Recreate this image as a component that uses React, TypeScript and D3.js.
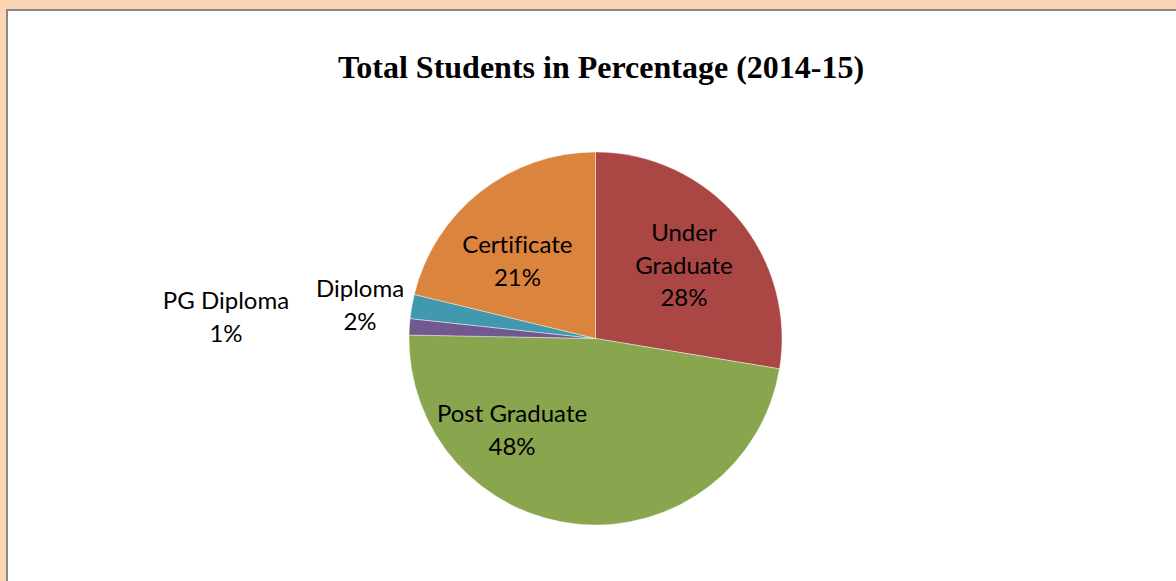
import React from "react";
import * as d3 from "d3";

const categories = ["Under Graduate", "Post Graduate", "PG Diploma", "Diploma", "Certificate"];
const values = [27.6, 47.7, 1.4, 2.1, 21.2];
const percentLabels = ["28%", "48%", "1%", "2%", "21%"];
const labelLines = [["Under", "Graduate"], ["Post Graduate"], ["PG Diploma"], ["Diploma"], ["Certificate"]];
const colors = ["#AA4644", "#89A54E", "#71588F", "#4198AF", "#DB843D"];

// label placement (polar: angle in degrees clockwise from top, radius as fraction of pie radius)
const labelPlacement = [
  { angle: 49.9, r: 0.62 },
  { angle: 222.7, r: 0.66 },
  { angle: 273.5, r: 1.985 },
  { angle: 278.3, r: 1.276 },
  { angle: 315.2, r: 0.594 },
];

const W = 1176;
const H = 581;
const cx = 595.5;
const cy = 338.5;
const R = 186.5;

export default function App() {
  const pie = d3.pie<number>().sort(null).value((d) => d);
  const arcs = pie(values);
  const arc = d3.arc<d3.PieArcDatum<number>>().innerRadius(0).outerRadius(R);
  const lineH = 32.5;

  return (
    <div style={{ position: "absolute", left: 0, top: 0, width: W, height: H }}>
      <svg width={W} height={H} style={{ display: "block" }}>
        <rect x={0} y={0} width={W} height={H} fill="#FCD5B4" />
        <rect x={7} y={10} width={W + 20} height={H + 20} fill="#FFFFFF" stroke="#878787" strokeWidth={2} />
        <text
          x={601}
          y={78}
          textAnchor="middle"
          fontFamily="'Liberation Serif', 'Times New Roman', serif"
          fontWeight="bold"
          fontSize={32}
          fill="#000"
        >
          Total Students in Percentage (2014-15)
        </text>
        <g transform={`translate(${cx},${cy})`}>
          {arcs.map((a, i) => (
            <path key={categories[i]} d={arc(a) || ""} fill={colors[i]} stroke="#FFFFFF" strokeOpacity={0.6} strokeWidth={0.7} />
          ))}
          {arcs.map((a, i) => {
            const p = labelPlacement[i];
            const th = (p.angle * Math.PI) / 180;
            const lx = Math.sin(th) * p.r * R;
            const ly = -Math.cos(th) * p.r * R;
            const lines = [...labelLines[i], percentLabels[i]];
            const y0 = ly - ((lines.length - 1) * lineH) / 2;
            return (
              <text
                key={"l" + i}
                textAnchor="middle"
                fontFamily="Lato, 'Open Sans', sans-serif"
                fontSize={24}
                fill="#000"
                style={{ fontVariantLigatures: "none" }}
              >
                {lines.map((t, j) => (
                  <tspan key={j} x={lx} y={y0 + j * lineH} dominantBaseline="central">
                    {t}
                  </tspan>
                ))}
              </text>
            );
          })}
        </g>
      </svg>
    </div>
  );
}
